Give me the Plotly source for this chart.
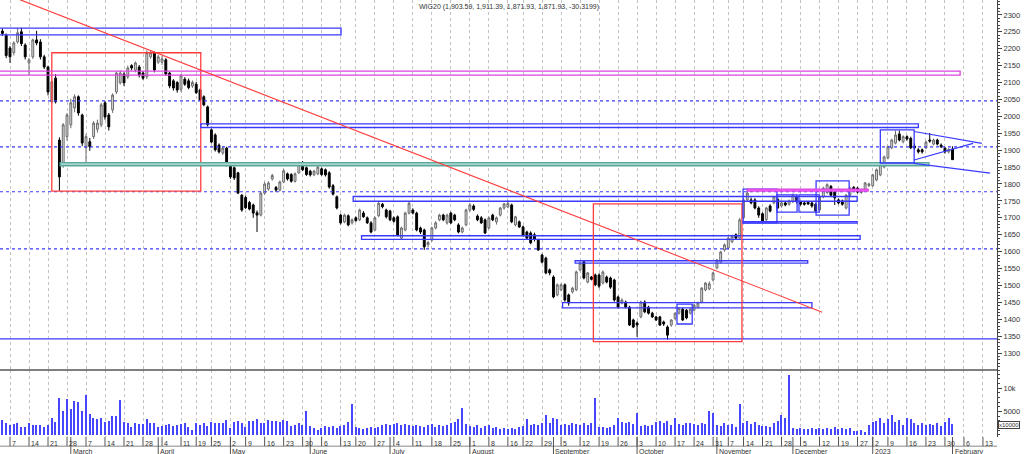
import pandas as pd
import plotly.graph_objects as go
from plotly.subplots import make_subplots

# dni bez sesji na GPW w tym okresie
holidays = ["2022-04-15", "2022-04-18", "2022-05-03", "2022-06-16", "2022-08-15",
            "2022-11-01", "2022-11-11", "2022-12-26", "2023-01-06"]
days = [d for d in pd.bdate_range("2022-02-01", "2023-02-17")
        if d.strftime("%Y-%m-%d") not in holidays]

first = 2  # pierwsza swieca: 3 lutego 2022

opens = [
    2252, 2240, 2202, 2188, 2220, 2250, 2211, 2158, 2176, 2226,
    2220, 2176, 2146, 2043, 2113, 1930, 1856, 1940, 1975, 2025,
    2058, 2004, 1907, 1925, 1940, 1962, 1975, 2040, 2004, 2019,
    2072, 2099, 2125, 2117, 2150, 2137, 2146, 2128, 2117, 2176,
    2188, 2160, 2160, 2167, 2128, 2105, 2100, 2080, 2110, 2105,
    2090, 2095, 2078, 2058, 2028, 1960, 1945, 1915, 1892, 1906,
    1856, 1848, 1833, 1767, 1760, 1745, 1738, 1715, 1708, 1773,
    1785, 1815, 1790, 1782, 1806, 1830, 1828, 1808, 1833, 1862,
    1848, 1838, 1827, 1830, 1845, 1842, 1833, 1795, 1762, 1708,
    1688, 1706, 1685, 1700, 1694, 1714, 1700, 1685, 1664, 1706,
    1740, 1723, 1720, 1700, 1703, 1640, 1664, 1714, 1723, 1714,
    1670, 1664, 1620, 1634, 1670, 1694, 1708, 1685, 1714, 1708,
    1679, 1658, 1679, 1723, 1735, 1705, 1700, 1694, 1670, 1708,
    1688, 1708, 1729, 1732, 1738, 1679, 1688, 1673, 1658, 1655,
    1650, 1634, 1590, 1581, 1546, 1525, 1472, 1487, 1502, 1472,
    1481, 1487, 1546, 1570, 1510, 1525, 1531, 1531, 1507, 1525,
    1522, 1516, 1466, 1448, 1451, 1436, 1398, 1389, 1407, 1451,
    1436, 1418, 1407, 1407, 1392, 1377, 1383, 1403, 1418, 1430,
    1427, 1418, 1427, 1436, 1451, 1487, 1490, 1516, 1552, 1569,
    1605, 1611, 1629, 1650, 1640, 1700, 1753, 1753, 1753, 1729,
    1712, 1694, 1735, 1744, 1755, 1735, 1744, 1740, 1747, 1762,
    1747, 1744, 1746, 1744, 1740, 1723, 1762, 1775, 1793, 1776,
    1753, 1750, 1729, 1767, 1790, 1788, 1775, 1782, 1795, 1795,
    1812, 1827, 1850, 1877, 1907, 1921, 1948, 1925, 1940, 1935,
    1912, 1901, 1901, 1907, 1930, 1918, 1930, 1915, 1906, 1895,
    1903.59]
highs = [
    2260, 2245, 2208, 2222, 2262, 2262, 2216, 2172, 2230, 2253,
    2228, 2182, 2150, 2108, 2125, 1938, 1980, 2010, 2052, 2065,
    2062, 2008, 1948, 1936, 1986, 1990, 2040, 2046, 2010, 2068,
    2132, 2135, 2130, 2150, 2154, 2162, 2152, 2134, 2195, 2196,
    2192, 2182, 2178, 2172, 2132, 2110, 2104, 2125, 2116, 2112,
    2106, 2102, 2082, 2062, 2032, 1964, 1950, 1920, 1912, 1910,
    1860, 1852, 1836, 1770, 1766, 1750, 1742, 1722, 1778, 1806,
    1808, 1830, 1794, 1810, 1844, 1834, 1832, 1834, 1866, 1868,
    1852, 1842, 1842, 1855, 1849, 1846, 1838, 1800, 1766, 1712,
    1712, 1710, 1698, 1704, 1727, 1720, 1704, 1690, 1704, 1750,
    1744, 1727, 1724, 1704, 1707, 1674, 1718, 1747, 1728, 1718,
    1674, 1668, 1632, 1674, 1690, 1712, 1712, 1712, 1718, 1712,
    1684, 1674, 1727, 1744, 1740, 1710, 1705, 1698, 1704, 1712,
    1704, 1732, 1744, 1752, 1742, 1706, 1692, 1677, 1662, 1660,
    1656, 1638, 1594, 1585, 1550, 1530, 1506, 1506, 1506, 1476,
    1496, 1544, 1572, 1574, 1540, 1528, 1535, 1536, 1544, 1529,
    1526, 1520, 1470, 1462, 1455, 1440, 1402, 1394, 1455, 1456,
    1440, 1422, 1410, 1410, 1396, 1382, 1400, 1420, 1436, 1434,
    1430, 1434, 1446, 1452, 1495, 1510, 1512, 1540, 1578, 1602,
    1624, 1644, 1650, 1654, 1700, 1757, 1778, 1760, 1758, 1734,
    1716, 1732, 1740, 1765, 1760, 1748, 1748, 1754, 1772, 1766,
    1750, 1748, 1750, 1748, 1744, 1766, 1792, 1802, 1797, 1780,
    1757, 1754, 1770, 1792, 1794, 1792, 1786, 1806, 1804, 1830,
    1846, 1866, 1884, 1914, 1934, 1958, 1958, 1944, 1944, 1940,
    1920, 1906, 1905, 1928, 1951, 1934, 1934, 1920, 1910, 1906,
    1911.39]
lows = [
    2238, 2172, 2158, 2180, 2215, 2208, 2168, 2122, 2170, 2210,
    2168, 2140, 2062, 2038, 2038, 1780, 1848, 1928, 1965, 2012,
    2002, 1912, 1865, 1898, 1933, 1952, 1968, 1990, 1958, 2010,
    2066, 2094, 2090, 2110, 2136, 2130, 2115, 2108, 2110, 2170,
    2130, 2155, 2152, 2120, 2083, 2076, 2070, 2072, 2090, 2080,
    2084, 2066, 2045, 2030, 1970, 1920, 1896, 1890, 1886, 1852,
    1815, 1812, 1770, 1718, 1726, 1722, 1700, 1658, 1704, 1768,
    1780, 1810, 1776, 1778, 1802, 1810, 1804, 1804, 1830, 1838,
    1824, 1822, 1823, 1826, 1824, 1822, 1786, 1766, 1725, 1680,
    1684, 1675, 1680, 1688, 1690, 1700, 1682, 1654, 1660, 1702,
    1728, 1698, 1690, 1686, 1645, 1636, 1660, 1710, 1710, 1660,
    1652, 1605, 1612, 1630, 1666, 1690, 1690, 1680, 1682, 1690,
    1654, 1654, 1675, 1718, 1720, 1690, 1682, 1652, 1666, 1690,
    1680, 1704, 1724, 1728, 1684, 1675, 1670, 1645, 1636, 1622,
    1630, 1602, 1565, 1533, 1530, 1462, 1468, 1483, 1452, 1440,
    1476, 1483, 1542, 1518, 1506, 1515, 1498, 1492, 1503, 1506,
    1490, 1452, 1432, 1444, 1432, 1380, 1374, 1348, 1403, 1418,
    1414, 1404, 1395, 1380, 1380, 1340, 1378, 1398, 1414, 1395,
    1400, 1414, 1423, 1432, 1447, 1483, 1486, 1512, 1548, 1565,
    1600, 1606, 1625, 1636, 1636, 1696, 1748, 1740, 1725, 1700,
    1686, 1690, 1716, 1740, 1725, 1730, 1734, 1736, 1744, 1742,
    1736, 1736, 1738, 1730, 1716, 1720, 1758, 1770, 1763, 1738,
    1740, 1736, 1725, 1763, 1776, 1772, 1771, 1778, 1791, 1792,
    1808, 1823, 1846, 1873, 1903, 1917, 1926, 1920, 1928, 1903,
    1902, 1890, 1890, 1903, 1922, 1914, 1914, 1906, 1890, 1890,
    1871.93]
closes = [
    2245, 2180, 2176, 2217, 2247, 2215, 2176, 2167, 2226, 2217,
    2176, 2146, 2072, 2102, 2043, 1821, 1975, 2004, 2040, 2058,
    2010, 1921, 1940, 1910, 1980, 1980, 2034, 1998, 1969, 2063,
    2128, 2128, 2099, 2143, 2143, 2158, 2122, 2113, 2188, 2188,
    2137, 2176, 2170, 2125, 2090, 2084, 2078, 2120, 2095, 2085,
    2100, 2070, 2049, 2034, 1975, 1924, 1901, 1895, 1906, 1856,
    1821, 1818, 1773, 1723, 1730, 1726, 1714, 1708, 1773, 1800,
    1803, 1825, 1782, 1806, 1839, 1815, 1808, 1830, 1862, 1842,
    1828, 1827, 1838, 1850, 1828, 1827, 1791, 1770, 1729, 1685,
    1708, 1679, 1694, 1692, 1723, 1703, 1685, 1658, 1700, 1743,
    1733, 1703, 1694, 1690, 1649, 1670, 1714, 1743, 1714, 1664,
    1658, 1614, 1627, 1670, 1685, 1708, 1694, 1708, 1685, 1694,
    1658, 1670, 1723, 1738, 1725, 1694, 1685, 1655, 1700, 1694,
    1700, 1729, 1741, 1743, 1688, 1703, 1673, 1649, 1640, 1626,
    1636, 1605, 1569, 1537, 1537, 1466, 1502, 1502, 1457, 1448,
    1492, 1540, 1566, 1522, 1537, 1518, 1502, 1498, 1540, 1510,
    1495, 1457, 1436, 1457, 1436, 1383, 1377, 1383, 1451, 1422,
    1418, 1407, 1398, 1383, 1386, 1353, 1398, 1418, 1433, 1398,
    1404, 1430, 1442, 1448, 1492, 1507, 1505, 1537, 1575, 1599,
    1620, 1640, 1645, 1640, 1694, 1753, 1773, 1744, 1729, 1708,
    1690, 1729, 1720, 1762, 1729, 1744, 1738, 1750, 1767, 1747,
    1740, 1740, 1741, 1735, 1720, 1762, 1788, 1798, 1767, 1759,
    1744, 1740, 1767, 1788, 1780, 1776, 1782, 1803, 1800, 1827,
    1842, 1862, 1880, 1910, 1930, 1945, 1930, 1940, 1933, 1907,
    1907, 1895, 1895, 1924, 1927, 1930, 1918, 1910, 1895, 1902.25,
    1871.93]
volumes = [
    3270, 2470, 2130, 2270, 2470, 1670, 1670, 2600, 2000, 2070,
    2130, 1600, 2130, 3600, 2730, 7800, 5000, 7670, 5470, 7330,
    7070, 5200, 8600, 4400, 3670, 3470, 3600, 2800, 3000, 4130,
    3930, 7470, 2800, 2470, 1670, 2600, 2270, 2270, 3330, 2600,
    2600, 1670, 1930, 2130, 2270, 1930, 2130, 2270, 2600, 1670,
    1130, 2600, 2130, 2470, 1800, 2800, 2470, 2470, 2470, 3130,
    1470, 2670, 3000, 2470, 1600, 2930, 2930, 3400, 2600, 2470,
    3130, 3000, 3000, 2670, 3270, 3000, 1930, 2130, 2470, 2130,
    5200, 1800, 1470, 1130, 1470, 1800, 1600, 1800, 1470, 1800,
    2130, 2800, 6500, 1600, 1470, 1300, 1500, 1700, 1400, 1600,
    2200, 2400, 2100, 2300, 2600, 2000, 2400, 2200, 1900, 2100,
    1800, 1600, 2000, 2300, 1700, 2000, 1800, 2200, 2500, 2800,
    3300, 5800, 2400, 1800, 1600, 2100, 1500, 1800, 2000, 1400,
    1700, 1300, 1400, 1200, 1500, 1300, 1600, 1900, 3300, 2000,
    2400, 2200, 2600, 4200, 2600, 3500, 3400, 2100, 2400, 2200,
    2600, 2300, 2000, 2500, 2200, 2600, 7800, 1600, 1700, 1500,
    1600, 2000, 3500, 2700, 2500, 2800, 2400, 4600, 1900, 2000,
    1800, 2100, 2700, 3000, 2500, 2900, 2000, 3600, 2400, 2200,
    2500, 2600, 2300, 2100, 2500, 2300, 5000, 4600, 2200, 1900,
    2600, 2000, 2400, 1700, 6600, 2500, 3000, 2400, 2800, 2000,
    1900, 1800, 1700, 2600, 3000, 4200, 3500, 12800, 1500, 1300,
    1400, 1200, 1300, 1500, 1200, 1400, 1300, 1500, 1200, 1600,
    1300, 1400, 1200, 1500, 900, 800, 1000, 700, 2200, 2800,
    3000, 3600, 2600, 3300, 4200, 2700, 3100, 2200, 3700, 3300,
    2500, 2200, 2600, 2000, 2400, 2100, 2600, 1900, 2800, 3500,
    2400]

months = ["February", "March", "April", "May", "June", "July", "August",
          "September", "October", "November", "December", "2023", "February"]

BLUE = "#3a3aff"
RED = "#ff3c3c"
MAGENTA = "#e040e0"
TEAL = "#5aa89c"

# rysunki analityka: numer sesji od 1 lutego 2022 i poziomy ceny
dotted_levels = [2046, 1910, 1777, 1608]
support_level = 1342
zones = [
    # (sesja od, sesja do, cena dol, cena gora, kolor linii, wypelnienie)
    (0, 91.1, 2241, 2261, BLUE, None),
    (15.0, 54.2, 1779, 2188, RED, None),
    (0, 254.0, 2122, 2134, MAGENTA, None),
    (17.2, 245.8, 1854, 1863, TEAL, "#a6d6ce"),
    (54.2, 243.0, 1967, 1978, BLUE, None),
    (94.3, 226.9, 1749, 1763, BLUE, None),
    (96.5, 227.7, 1636, 1647, BLUE, None),
    (152.7, 213.9, 1566, 1573, BLUE, None),
    (149.4, 215.0, 1434, 1449, BLUE, None),
    (157.5, 196.6, 1334, 1741, RED, None),
    (179.5, 183.5, 1386, 1445, BLUE, None),
    (196.9, 226.9, 1684, 1689, BLUE, None),
    (196.9, 205.8, 1685, 1785, BLUE, None),
    (205.8, 211.1, 1717, 1768, BLUE, None),
    (211.6, 216.9, 1717, 1768, BLUE, None),
    (216.1, 224.8, 1708, 1809, BLUE, None),
    (198.0, 229.8, 1779, 1785, MAGENTA, "#ff70ff"),
    (233.0, 241.9, 1862, 1960, BLUE, None),
]
trend_lines = [
    # (sesja, cena) -> (sesja, cena)
    (6.6, 2345, 217.7, 1421, RED),
    (241.9, 1955, 259.7, 1920, BLUE),
    (241.9, 1871, 257.4, 1920, BLUE),
    (241.9, 1861, 261.9, 1832, BLUE),
]

xs = list(range(first, first + len(closes)))

week_idx = [i for i in range(1, len(days))
            if days[i].isocalendar()[1] != days[i - 1].isocalendar()[1]]
month_idx = [0] + [i for i in range(1, len(days)) if days[i].month != days[i - 1].month]

fig = make_subplots(rows=2, cols=1, shared_xaxes=True, vertical_spacing=0,
                    row_heights=[0.8467, 0.1533])

fig.add_trace(go.Candlestick(
    x=xs, open=opens, high=highs, low=lows, close=closes,
    increasing=dict(line=dict(color="#6a6a6a", width=1), fillcolor="#e2e2e2"),
    decreasing=dict(line=dict(color="#000000", width=1), fillcolor="#000000"),
    whiskerwidth=0, showlegend=False, hoverinfo="skip"), row=1, col=1)

fig.add_trace(go.Bar(x=xs, y=volumes, width=0.35,
                     marker=dict(color="#4646ff", line_width=0),
                     showlegend=False, hoverinfo="skip"), row=2, col=1)

shapes = []
for p in dotted_levels:
    shapes.append(dict(type="line", xref="paper", yref="y", x0=0, x1=1, y0=p, y1=p,
                       line=dict(color=BLUE, width=1.2, dash="dot")))
shapes.append(dict(type="line", xref="paper", yref="y", x0=0, x1=1,
                   y0=support_level, y1=support_level, line=dict(color=BLUE, width=1.2)))
for x0, x1, p0, p1, col, fill in zones:
    shapes.append(dict(type="rect", xref="x", yref="y", x0=x0, x1=x1, y0=p0, y1=p1,
                       line=dict(color=col, width=1.3),
                       fillcolor=fill if fill else "rgba(0,0,0,0)"))
for x0, p0, x1, p1, col in trend_lines:
    shapes.append(dict(type="line", xref="x", yref="y", x0=x0, x1=x1, y0=p0, y1=p1,
                       line=dict(color=col, width=1.1)))

# separator paneli i dolna os czasu
shapes.append(dict(type="line", xref="paper", yref="paper", x0=0, x1=1,
                   y0=0.1533, y1=0.1533, line=dict(color="#555555", width=1.5)))
shapes.append(dict(type="line", xref="paper", yref="paper", x0=0, x1=1,
                   y0=-0.021, y1=-0.021, line=dict(color="#888888", width=1)))
for i in week_idx:
    shapes.append(dict(type="line", xref="x", yref="paper", x0=i, x1=i, y0=0, y1=-0.021,
                       line=dict(color="#555555", width=1)))
for i in month_idx:
    shapes.append(dict(type="line", xref="x", yref="paper", x0=i, x1=i, y0=0, y1=-0.045,
                       line=dict(color="#555555", width=1)))

small = dict(family="Liberation Sans, Arial, sans-serif", size=7, color="#333333")
annotations = []
for i in week_idx:
    annotations.append(dict(x=i, y=0, xref="x", yref="paper", text=str(days[i].day),
                            xanchor="left", yanchor="top", xshift=0, yshift=-1,
                            showarrow=False, font=small))
for i, name in zip(month_idx, months):
    annotations.append(dict(x=i, y=-0.021, xref="x", yref="paper", text=name,
                            xanchor="left", yanchor="top", xshift=0, yshift=0,
                            showarrow=False, font=small))
annotations.append(dict(x=0.5105, y=1, xref="paper", yref="paper",
                        text="WIG20 (1,903.59, 1,911.39, 1,871.93, 1,871.93, -30.3199)",
                        xanchor="center", yanchor="top", yshift=-1, showarrow=False,
                        font=small))
annotations.append(dict(x=1.001, y=0.028, xref="paper", yref="paper", text="x10000",
                        xanchor="left", yanchor="middle", showarrow=False,
                        bordercolor="#444444", borderwidth=1, borderpad=0,
                        bgcolor="white",
                        font=dict(family="Liberation Sans, Arial, sans-serif", size=6,
                                  color="#333333")))

fig.update_xaxes(range=[1.37, 263.7], tickvals=week_idx, showticklabels=False, ticks="",
                 showgrid=True, gridcolor="#c2c2c2", griddash="dot", gridwidth=1,
                 zeroline=False, showline=False, rangeslider_visible=False)

axis_font = dict(family="Liberation Sans, Arial, sans-serif", size=7.5, color="#333333")
fig.update_yaxes(range=[1250, 2344], side="right", tickvals=list(range(1300, 2301, 50)),
                 ticks="outside", ticklen=4, tickcolor="#444444", tickwidth=1,
                 minor=dict(dtick=10, ticks="outside", ticklen=2, tickcolor="#444444",
                            showgrid=False),
                 showgrid=False, zeroline=False, showline=True, linecolor="#444444",
                 linewidth=1, tickfont=axis_font, row=1, col=1)
fig.update_yaxes(range=[-460, 13860], side="right", tickvals=[5000, 10000],
                 ticks="outside", ticklen=4, tickcolor="#444444", tickwidth=1,
                 minor=dict(dtick=1000, ticks="outside", ticklen=2, tickcolor="#444444",
                            showgrid=False),
                 showgrid=False, zeroline=False, showline=True, linecolor="#444444",
                 linewidth=1, tickfont=axis_font, row=2, col=1)

fig.update_layout(width=1024, height=454, margin=dict(l=0, r=27, t=0, b=17),
                  paper_bgcolor="white", plot_bgcolor="white", hovermode=False,
                  shapes=shapes, annotations=annotations, bargap=0)

# bez marginesu strony, zeby wykres zajal cale okno 1024x454
fig.write_html("out.html", config={"displayModeBar": False},
               post_script="document.body.style.margin='0';"
                           "document.body.style.overflow='hidden';")
